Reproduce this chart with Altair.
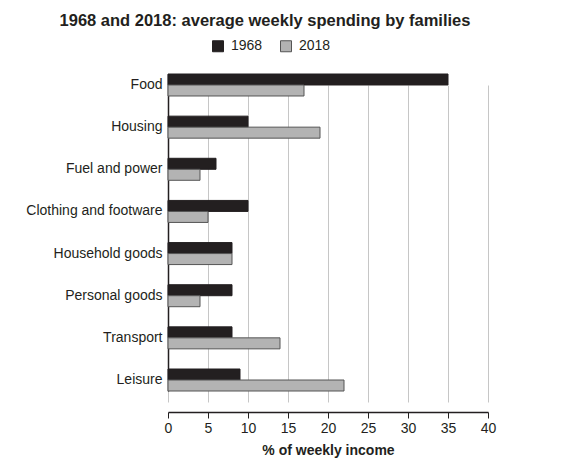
import altair as alt
import pandas as pd

categories = ["Food", "Housing", "Fuel and power", "Clothing and footware",
              "Household goods", "Personal goods", "Transport", "Leisure"]
years = ["1968", "2018"]
v1968 = [35, 10, 6, 10, 8, 8, 8, 9]
v2018 = [17, 19, 4, 5, 8, 4, 14, 22]
x_ticks = [0, 5, 10, 15, 20, 25, 30, 35, 40]

rows = []
for c, a, b in zip(categories, v1968, v2018):
    rows.append({"category": c, "year": "1968", "value": a})
    rows.append({"category": c, "year": "2018", "value": b})
df = pd.DataFrame(rows)

FONT = "Liberation Sans"
TXT = "#231f20"

legend = alt.Legend(
    title=None, orient="none", legendX=43, legendY=-25, direction="horizontal",
    symbolType="square", symbolSize=121, symbolStrokeWidth=1,
    labelFont=FONT, labelFontSize=14, labelColor=TXT, labelOffset=6,
    columnPadding=15,
)

chart = alt.Chart(df).mark_bar(strokeWidth=1).encode(
    y=alt.Y("category:N", sort=categories,
            scale=alt.Scale(range=[10, 327], paddingInner=0.478, paddingOuter=0),
            axis=alt.Axis(title=None, ticks=False, tickSize=0, labelPadding=6,
                          labelFont=FONT, labelFontSize=14, labelColor=TXT,
                          domainColor=TXT, domainWidth=1.5, grid=False)),
    x=alt.X("value:Q", scale=alt.Scale(domain=[0, 40], nice=False),
            axis=alt.Axis(values=x_ticks, title="% of weekly income",
                          titleFont=FONT, titleFontSize=14, titleFontWeight="bold",
                          titleColor=TXT, titlePadding=8,
                          labelFont=FONT, labelFontSize=14, labelColor=TXT,
                          labelPadding=3, labelFlush=False, tickSize=6, tickColor=TXT,
                          domainColor=TXT, domainWidth=1.5,
                          grid=True, gridColor="#c6c6c6", gridWidth=1)),
    yOffset=alt.YOffset("year:N", sort=years,
                        scale=alt.Scale(paddingInner=0, paddingOuter=0)),
    fill=alt.Fill("year:N", sort=years,
                  scale=alt.Scale(domain=years, range=["#231f20", "#b3b3b3"]),
                  legend=legend),
    stroke=alt.Stroke("year:N", sort=years,
                      scale=alt.Scale(domain=years, range=["#231f20", "#555555"]),
                      legend=legend),
).properties(
    width=320, height=348,
    autosize=alt.AutoSizeParams(type="none"),
    padding={"left": 160, "top": 56, "right": 60, "bottom": 50},
    title=alt.TitleParams(
        "1968 and 2018: average weekly spending by families",
        anchor="middle", frame="group", dx=-63, dy=-6,
        font=FONT, fontSize=16.5, fontWeight="bold", color=TXT,
    ),
).configure_view(strokeWidth=0)

chart.save("out.html", embed_options={"renderer": "svg", "actions": False})
